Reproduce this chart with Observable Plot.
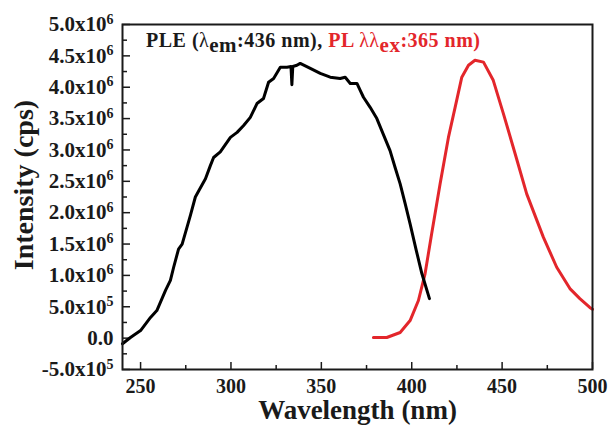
<!DOCTYPE html>
<html>
<head>
<meta charset="utf-8">
<script src="https://cdn.jsdelivr.net/npm/d3@7"></script>
<script src="https://cdn.jsdelivr.net/npm/@observablehq/plot@0.6"></script>
<style>
  html, body { margin: 0; padding: 0; background: #fff; }
  #chart { width: 608px; height: 425px; }
</style>
</head>
<body>
<div id="chart"></div>
<script>
// PLE (excitation) spectrum, λem = 436 nm
const pleWavelength = [240, 244.4, 250, 255.5, 259, 263.8, 266.5, 268.3, 271, 273, 275.7, 277.6, 280.3, 282.2, 285.9, 288.6, 290.4, 294.1, 299.7, 303.4, 307, 310.7, 314.4, 318, 320.8, 323.6, 327.3, 331, 333.2, 333.7, 334.2, 336.5, 338.3, 343.9, 349.4, 354.9, 360.4, 363.2, 366, 369.7, 371.5, 373.3, 377, 380.7, 384.4, 388, 390.8, 393.6, 396.4, 399.1, 402.5, 405.6, 409.8];
const pleIntensity  = [-0.09e6, 0.01e6, 0.12e6, 0.33e6, 0.44e6, 0.76e6, 0.92e6, 1.13e6, 1.42e6, 1.50e6, 1.77e6, 1.96e6, 2.25e6, 2.35e6, 2.54e6, 2.75e6, 2.88e6, 2.97e6, 3.20e6, 3.28e6, 3.39e6, 3.52e6, 3.74e6, 3.82e6, 4.08e6, 4.14e6, 4.32e6, 4.32e6, 4.33e6, 4.04e6, 4.33e6, 4.35e6, 4.38e6, 4.30e6, 4.22e6, 4.16e6, 4.14e6, 4.16e6, 4.06e6, 4.06e6, 3.95e6, 3.84e6, 3.68e6, 3.50e6, 3.24e6, 2.99e6, 2.72e6, 2.46e6, 2.14e6, 1.82e6, 1.40e6, 1.03e6, 0.63e6];

// PL (emission) spectrum, λex = 365 nm
const plWavelength = [378.8, 386.2, 393.6, 399.1, 403.7, 407.4, 411, 415.7, 420.3, 424, 427.7, 431.4, 435, 439.7, 445.1, 450.7, 457.2, 463.6, 472.8, 480.2, 487.5, 493, 498.5, 500];
const plIntensity  = [0.01e6, 0.01e6, 0.09e6, 0.28e6, 0.60e6, 1.03e6, 1.66e6, 2.46e6, 3.20e6, 3.68e6, 4.16e6, 4.35e6, 4.43e6, 4.40e6, 4.11e6, 3.58e6, 2.94e6, 2.30e6, 1.61e6, 1.13e6, 0.79e6, 0.63e6, 0.49e6, 0.46e6];

const xTicks = [250, 300, 350, 400, 450, 500];
const xMinorTicks = [275, 325, 375, 425, 475];
const yTicks = [-5e5, 0, 5e5, 1e6, 1.5e6, 2e6, 2.5e6, 3e6, 3.5e6, 4e6, 4.5e6, 5e6];
const yMinorTicks = [-2.5e5, 2.5e5, 7.5e5, 1.25e6, 1.75e6, 2.25e6, 2.75e6, 3.25e6, 3.75e6, 4.25e6, 4.75e6];
const yTickLabels = ["-5.0x10^5", "0.0", "5.0x10^5", "1.0x10^6", "1.5x10^6", "2.0x10^6", "2.5x10^6", "3.0x10^6", "3.5x10^6", "4.0x10^6", "4.5x10^6", "5.0x10^6"];

const ple = pleWavelength.map((w, i) => ({w, v: pleIntensity[i]}));
const pl = plWavelength.map((w, i) => ({w, v: plIntensity[i]}));

const W = 608, H = 425, mL = 122, mR = 16, mT = 24, mB = 56;
const fw = W - mL - mR, fh = H - mT - mB;
const ink = "#1a1a1a";
const red = "#e3262b";

const chart = Plot.plot({
  width: W, height: H,
  marginLeft: mL, marginRight: mR, marginTop: mT, marginBottom: mB,
  style: {fontFamily: "'Liberation Serif', 'Times New Roman', serif", fontWeight: "bold", color: ink, background: "#fff", overflow: "visible"},
  x: {domain: [240, 500]},
  y: {domain: [-5e5, 5e6]},
  marks: [
    Plot.tickX(xTicks, {x: d => d, insetTop: fh - 7, stroke: ink, strokeWidth: 1.5}),
    Plot.tickX(xMinorTicks, {x: d => d, insetTop: fh - 4, stroke: ink, strokeWidth: 1.5}),
    Plot.tickY(yTicks, {y: d => d, insetRight: fw - 8, stroke: ink, strokeWidth: 1.5}),
    Plot.tickY(yMinorTicks, {y: d => d, insetRight: fw - 5, stroke: ink, strokeWidth: 1.5}),
    Plot.line(pl, {x: "w", y: "v", stroke: red, strokeWidth: 3, curve: "linear"}),
    Plot.line(ple, {x: "w", y: "v", stroke: "#000", strokeWidth: 3, curve: "linear"}),
    Plot.frame({stroke: ink, strokeWidth: 2}),
    Plot.axisX({ticks: xTicks, tickSize: 0, tickPadding: 9, fontSize: 20, label: null}),
    Plot.axisY({ticks: yTicks, tickSize: 0, tickPadding: 9, fontSize: 21, label: null,
      tickFormat: d => yTickLabels[yTicks.indexOf(d)]}),
    Plot.text(["Wavelength (nm)"], {frameAnchor: "bottom", textAnchor: "middle", lineAnchor: "middle", text: d => d, dy: 41, fontSize: 27, fontWeight: "bold", fill: ink}),
    Plot.text(["Intensity (cps)"], {frameAnchor: "left", textAnchor: "middle", lineAnchor: "middle", text: d => d, dx: -(mL - 24), dy: -12, rotate: -90, fontSize: 28, fontWeight: "bold", fill: ink})
  ]
});

// superscript exponents on y tick labels
d3.select(chart).selectAll("[aria-label='y-axis tick label'] text").each(function() {
  const t = this.textContent;
  const m = t.split("^");
  if (m.length === 2) {
    const sel = d3.select(this);
    sel.text(null);
    sel.append("tspan").text(m[0]);
    sel.append("tspan").attr("dy", "-0.55em").attr("font-size", 14).text(m[1]);
  }
});

// legend line
const leg = d3.select(chart).append("text")
  .attr("x", 146).attr("y", 47)
  .attr("text-anchor", "start")
  .attr("font-size", 20).attr("font-weight", "bold")
  .attr("letter-spacing", "0.5px")
  .attr("font-family", "'Liberation Serif', serif");
leg.append("tspan").attr("fill", ink).text("PLE (");
leg.append("tspan").attr("fill", ink).attr("font-weight", "normal").text("λ");
leg.append("tspan").attr("fill", ink).attr("dy", 5).attr("font-size", 21).text("em");
leg.append("tspan").attr("fill", ink).attr("dy", -5).text(":436 nm), ");
leg.append("tspan").attr("fill", red).text("PL ");
leg.append("tspan").attr("fill", red).attr("font-weight", "normal").text("λλ");
leg.append("tspan").attr("fill", red).attr("dy", 5).attr("font-size", 21).text("ex");
leg.append("tspan").attr("fill", red).attr("dy", -5).text(":365 nm)");

document.getElementById("chart").appendChild(chart);
</script>
</body>
</html>
